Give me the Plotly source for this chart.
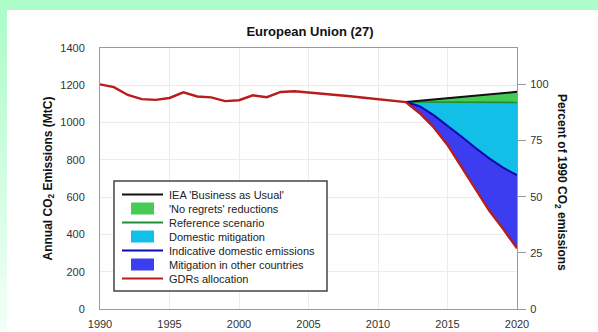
import plotly.graph_objects as go

# ---- data -------------------------------------------------------------
HIST_YEARS = list(range(1990, 2013))
HIST_EMISSIONS = [1205, 1190, 1148, 1126, 1122, 1132, 1162, 1140, 1135, 1115,
                  1120, 1146, 1136, 1164, 1168, 1162, 1155, 1148, 1141, 1133,
                  1126, 1118, 1110]

PROJ_YEARS = list(range(2012, 2021))
BAU = [1110, 1117, 1124, 1131, 1138, 1145, 1152, 1158, 1165]
REFERENCE = [1110, 1110, 1109, 1109, 1109, 1108, 1108, 1108, 1108]
DOMESTIC = [1110, 1088, 1040, 985, 925, 865, 808, 758, 718]
GDRS = [1110, 1050, 975, 880, 765, 645, 528, 430, 325]

X_TICKS = [1990, 1995, 2000, 2005, 2010, 2015, 2020]
Y_TICKS = [0, 200, 400, 600, 800, 1000, 1200, 1400]
PCT_TICKS = [0, 25, 50, 75, 100]

LEGEND_ITEMS = [
    ("IEA 'Business as Usual'", "line", "#111111"),
    ("'No regrets' reductions", "box", "#46cc55"),
    ("Reference scenario", "line", "#1f8f34"),
    ("Domestic mitigation", "box", "#12bfe6"),
    ("Indicative domestic emissions", "line", "#0a0ab0"),
    ("Mitigation in other countries", "box", "#3c3cf0"),
    ("GDRs allocation", "line", "#b81c1c"),
]

# ---- page geometry ----------------------------------------------------
W, H = 598, 332
ML, MR, MT, MB = 100, 81, 48, 23
PW, PH = W - ML - MR, H - MT - MB
FONT = "Liberation Sans, Arial, sans-serif"
GREEN_BG = (173, 252, 201)


def px_x(px):
    return (px - ML) / PW


def px_y(py):
    return (H - MB - py) / PH


fig = go.Figure()

# stacked projection bands
fig.add_trace(go.Scatter(x=PROJ_YEARS, y=GDRS, mode="lines",
                         line=dict(width=0), hoverinfo="skip", showlegend=False))
fig.add_trace(go.Scatter(x=PROJ_YEARS, y=DOMESTIC, mode="lines", fill="tonexty",
                         fillcolor="#3c3cf0", line=dict(width=0),
                         hoverinfo="skip", showlegend=False))
fig.add_trace(go.Scatter(x=PROJ_YEARS, y=REFERENCE, mode="lines", fill="tonexty",
                         fillcolor="#12bfe6", line=dict(width=0),
                         hoverinfo="skip", showlegend=False))
fig.add_trace(go.Scatter(x=PROJ_YEARS, y=BAU, mode="lines", fill="tonexty",
                         fillcolor="#46cc55", line=dict(width=0),
                         hoverinfo="skip", showlegend=False))

# scenario lines
fig.add_trace(go.Scatter(x=PROJ_YEARS, y=REFERENCE, mode="lines",
                         line=dict(color="#1f8f34", width=1.6), showlegend=False))
fig.add_trace(go.Scatter(x=PROJ_YEARS, y=BAU, mode="lines",
                         line=dict(color="#111111", width=2), showlegend=False))
fig.add_trace(go.Scatter(x=PROJ_YEARS, y=DOMESTIC, mode="lines",
                         line=dict(color="#0a0ab0", width=2), showlegend=False))
fig.add_trace(go.Scatter(x=HIST_YEARS + PROJ_YEARS[1:], y=HIST_EMISSIONS + GDRS[1:],
                         mode="lines", line=dict(color="#b81c1c", width=2.4),
                         showlegend=False))

# percent-of-1990 scale on the right axis
base = HIST_EMISSIONS[0]
fig.add_trace(go.Scatter(x=HIST_YEARS, y=[v / base * 100 for v in HIST_EMISSIONS],
                         yaxis="y2", mode="lines", line=dict(width=0),
                         opacity=0, hoverinfo="skip", showlegend=False))

shapes = []
annotations = []

# green page bands: flat top strip and a left strip fading downward
shapes.append(dict(type="rect", xref="paper", yref="paper", layer="below",
                   x0=px_x(0), x1=px_x(W), y0=px_y(10), y1=px_y(0),
                   fillcolor="rgb(%d,%d,%d)" % GREEN_BG, line=dict(width=0)))
n_slices = 30
end_col = (242, 255, 247)
for i in range(n_slices):
    t = i / (n_slices - 1)
    c = tuple(round(GREEN_BG[k] + (end_col[k] - GREEN_BG[k]) * t) for k in range(3))
    y_top = 10 + (H - 10) * i / n_slices
    y_bot = 10 + (H - 10) * (i + 1) / n_slices + 0.5
    shapes.append(dict(type="rect", xref="paper", yref="paper", layer="below",
                       x0=px_x(0), x1=px_x(7), y0=px_y(y_bot), y1=px_y(y_top),
                       fillcolor="rgb(%d,%d,%d)" % c, line=dict(width=0)))

# legend box
LG_L, LG_R, LG_T, LG_B = 114, 327, 181, 291
shapes.append(dict(type="rect", xref="paper", yref="paper",
                   x0=px_x(LG_L), x1=px_x(LG_R), y0=px_y(LG_B), y1=px_y(LG_T),
                   fillcolor="white", line=dict(color="#444444", width=1.5)))
row0, row_gap = 194.5, 14.0
for i, (label, kind, color) in enumerate(LEGEND_ITEMS):
    yc = row0 + i * row_gap
    if kind == "line":
        shapes.append(dict(type="line", xref="paper", yref="paper",
                           x0=px_x(122), x1=px_x(163), y0=px_y(yc), y1=px_y(yc),
                           line=dict(color=color, width=2)))
    else:
        shapes.append(dict(type="rect", xref="paper", yref="paper",
                           x0=px_x(131), x1=px_x(154),
                           y0=px_y(yc + 6), y1=px_y(yc - 6),
                           fillcolor=color, line=dict(width=0)))
    annotations.append(dict(xref="paper", yref="paper", x=px_x(167), y=px_y(yc),
                            xanchor="left", yanchor="middle", showarrow=False,
                            text=label, font=dict(family=FONT, size=11, color="#222222")))

# right-hand axis title, reading top to bottom
annotations.append(dict(xref="paper", yref="paper", x=px_x(561), y=px_y(182),
                        xanchor="center", yanchor="middle", showarrow=False,
                        textangle=90,
                        text="<b>Percent of 1990 CO<sub>2</sub> emissions</b>",
                        font=dict(family=FONT, size=12, color="#111111")))

fig.update_layout(
    width=W, height=H,
    margin=dict(l=ML, r=MR, t=MT, b=MB, pad=0, autoexpand=False),
    paper_bgcolor="white", plot_bgcolor="white",
    showlegend=False,
    title=dict(text="<b>European Union (27)</b>", x=310 / W,
               xanchor="center", y=1 - 31 / H, yanchor="middle", yref="container",
               xref="container",
               font=dict(family=FONT, size=13, color="#111111")),
    xaxis=dict(range=[1990, 2020], tickvals=X_TICKS, ticks="",
               showgrid=True, gridcolor="#ebebeb", gridwidth=1,
               showline=True, linecolor="#9a9a9a", linewidth=1, mirror=True,
               zeroline=False, ticklabelstandoff=5, automargin=False,
               tickfont=dict(family=FONT, size=11, color="#333333")),
    yaxis=dict(range=[0, 1400], tickvals=Y_TICKS, ticks="",
               showgrid=True, gridcolor="#ebebeb", gridwidth=1,
               showline=True, linecolor="#9a9a9a", linewidth=1, mirror=True,
               zeroline=False, ticklabelstandoff=12, automargin=False,
               tickfont=dict(family=FONT, size=11, color="#333333"),
               title=dict(text="<b>Annual CO<sub>2</sub> Emissions (MtC)</b>",
                          standoff=5,
                          font=dict(family=FONT, size=12, color="#111111"))),
    yaxis2=dict(range=[0, 1400 / base * 100], tickvals=PCT_TICKS, overlaying="y",
                side="right", showgrid=False, zeroline=False, showline=False,
                ticks="outside", ticklen=8, tickcolor="#9a9a9a", tickwidth=1,
                ticklabelstandoff=2, automargin=False,
                tickfont=dict(family=FONT, size=11, color="#333333")),
    shapes=shapes,
    annotations=annotations,
)

fig.write_html("out.html")
